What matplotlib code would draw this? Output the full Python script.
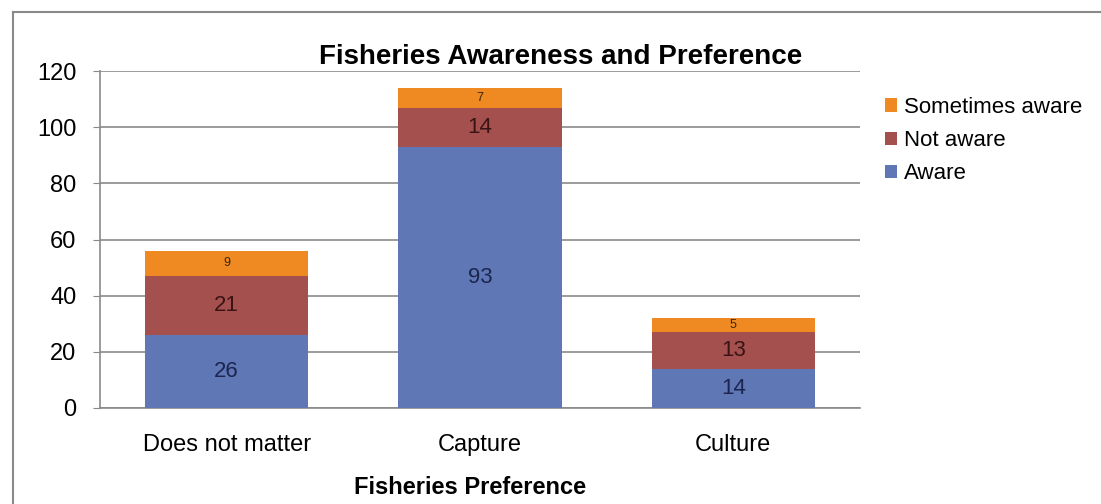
import matplotlib
matplotlib.use("Agg")
import matplotlib.pyplot as plt
from matplotlib.lines import Line2D
from matplotlib import font_manager
import numpy as np

# --- data ---
categories = ["Does not matter", "Capture", "Culture"]
aware = [26, 93, 14]
not_aware = [21, 14, 13]
sometimes_aware = [9, 7, 5]
series_names = ["Aware", "Not aware", "Sometimes aware"]
y_ticks = [0, 20, 40, 60, 80, 100, 120]

colors = ["#6077B6", "#A4504E", "#EF8A23"]
label_colors = ["#1B2550", "#3A1414", "#3A2608"]

available = {f.name for f in font_manager.fontManager.ttflist}
family = ["Liberation Sans Narrow"] if "Liberation Sans Narrow" in available else []
family += ["Liberation Sans", "DejaVu Sans"]
plt.rcParams["font.family"] = family

fig = plt.figure(figsize=(11.01, 5.04), dpi=100)
ax = fig.add_axes([100 / 1101, 1 - 408 / 504, 760 / 1101, 337 / 504])

x = np.arange(len(categories))
width = 0.645
bottom = np.zeros(len(categories))
values = [aware, not_aware, sometimes_aware]
for vals, name, col in zip(values, series_names, colors):
    ax.bar(x, vals, width, bottom=bottom, color=col, label=name, zorder=3)
    bottom += np.array(vals)

# segment labels
base = np.zeros(len(categories))
for i, (vals, lc) in enumerate(zip(values, label_colors)):
    small = i == 2
    for j, v in enumerate(vals):
        ax.text(x[j], base[j] + v / 2, str(v), ha="center", va="center",
                fontsize=9 if small else 16, color=lc, zorder=4)
    base += np.array(vals)

ax.set_xlim(-0.5, 2.5)
ax.set_ylim(0, 120)
ax.set_yticks(y_ticks)
ax.set_yticklabels([str(t) for t in y_ticks], fontsize=17)
ax.set_xticks(x)
ax.set_xticklabels(categories, fontsize=17)
ax.tick_params(axis="x", length=0, pad=19)
ax.tick_params(axis="y", length=5, color="#888888", pad=12)
ax.yaxis.grid(True, color="#8a8a8a", linewidth=1.2, zorder=0)
for s in ["top", "right"]:
    ax.spines[s].set_visible(False)
for s in ["left", "bottom"]:
    ax.spines[s].set_color("#8a8a8a")
    ax.spines[s].set_linewidth(1.2)

handles, labels = ax.get_legend_handles_labels()
fig.legend(handles[::-1], labels[::-1], loc="upper left",
           bbox_to_anchor=(876 / 1101, 1 - 88 / 504), frameon=False,
           fontsize=16, handlelength=0.55, handleheight=0.55,
           handletextpad=0.3, labelspacing=0.55, borderaxespad=0)

fig.text(561 / 1101, 1 - 57 / 504, "Fisheries Awareness and Preference",
         ha="center", va="center", fontsize=20, fontweight="bold")
fig.text(470 / 1101, 1 - 488 / 504, "Fisheries Preference",
         ha="center", va="center", fontsize=17, fontweight="bold")

# outer chart frame
fig.add_artist(Line2D([13 / 1101, 1], [1 - 12 / 504, 1 - 12 / 504],
                      transform=fig.transFigure, color="#8a8a8a", linewidth=1.5))
fig.add_artist(Line2D([13 / 1101, 13 / 1101], [0, 1 - 12 / 504],
                      transform=fig.transFigure, color="#8a8a8a", linewidth=1.5))

fig.savefig("out.png", dpi=100)
